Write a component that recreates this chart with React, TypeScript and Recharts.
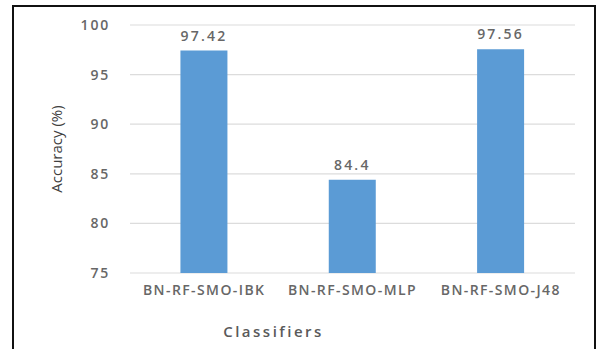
import React from 'react';
import { BarChart, Bar, XAxis, YAxis, CartesianGrid, LabelList } from 'recharts';

const categories = ['BN-RF-SMO-IBK', 'BN-RF-SMO-MLP', 'BN-RF-SMO-J48'];
const accuracy = [97.42, 84.4, 97.56];
const yTicks = [75, 80, 85, 90, 95, 100];

const data = categories.map((name, i) => ({ name, accuracy: accuracy[i] }));

const FONT = '"Open Sans", sans-serif';
const TEXT = '#676767';

export default function App() {
  return (
    <div style={{ position: 'absolute', left: 0, top: 0, width: 606, height: 349, background: '#fff', overflow: 'hidden' }}>
      <div
        style={{
          position: 'absolute',
          left: 12,
          top: 5,
          width: 580,
          height: 360,
          borderLeft: '2px solid #111',
          borderTop: '2px solid #111',
          borderRight: '2px solid #111',
        }}
      />
      <div style={{ position: 'absolute', left: 0, top: 0 }}>
        <BarChart
          width={606}
          height={349}
          data={data}
          margin={{ top: 25, right: 31, bottom: 16, left: 0 }}
          barCategoryGap="34%"
        >
          <CartesianGrid vertical={false} stroke="#dcdcdc" strokeWidth={1.2} />
          <XAxis
            dataKey="name"
            height={60}
            axisLine={false}
            tickLine={false}
            tickSize={0}
            tickMargin={12}
            interval={0}
            tick={{ fill: TEXT, fontSize: 14, fontWeight: 600, fontFamily: FONT, letterSpacing: 1.4 }}
            label={{
              value: 'Classifiers',
              position: 'center',
              dx: -79,
              dy: 29,
              fill: '#5a5a5a',
              fontSize: 15,
              fontWeight: 600,
              fontFamily: FONT,
              letterSpacing: 2.5,
            }}
          />
          <YAxis
            width={130}
            domain={[75, 100]}
            ticks={yTicks}
            axisLine={false}
            tickLine={false}
            tickSize={0}
            tickMargin={20}
            tick={{ fill: TEXT, fontSize: 14, fontWeight: 600, fontFamily: FONT, letterSpacing: 1.8 }}
            label={{
              value: 'Accuracy (%)',
              angle: -90,
              position: 'center',
              dx: -8,
              fill: '#404040',
              fontSize: 15,
              fontFamily: FONT,
            }}
          />
          <Bar dataKey="accuracy" fill="#5B9BD5" isAnimationActive={false}>
            <LabelList
              dataKey="accuracy"
              position="top"
              offset={10}
              fill={TEXT}
              fontSize={14}
              fontWeight={600}
              fontFamily={FONT}
              letterSpacing={2.2}
            />
          </Bar>
        </BarChart>
      </div>
    </div>
  );
}
